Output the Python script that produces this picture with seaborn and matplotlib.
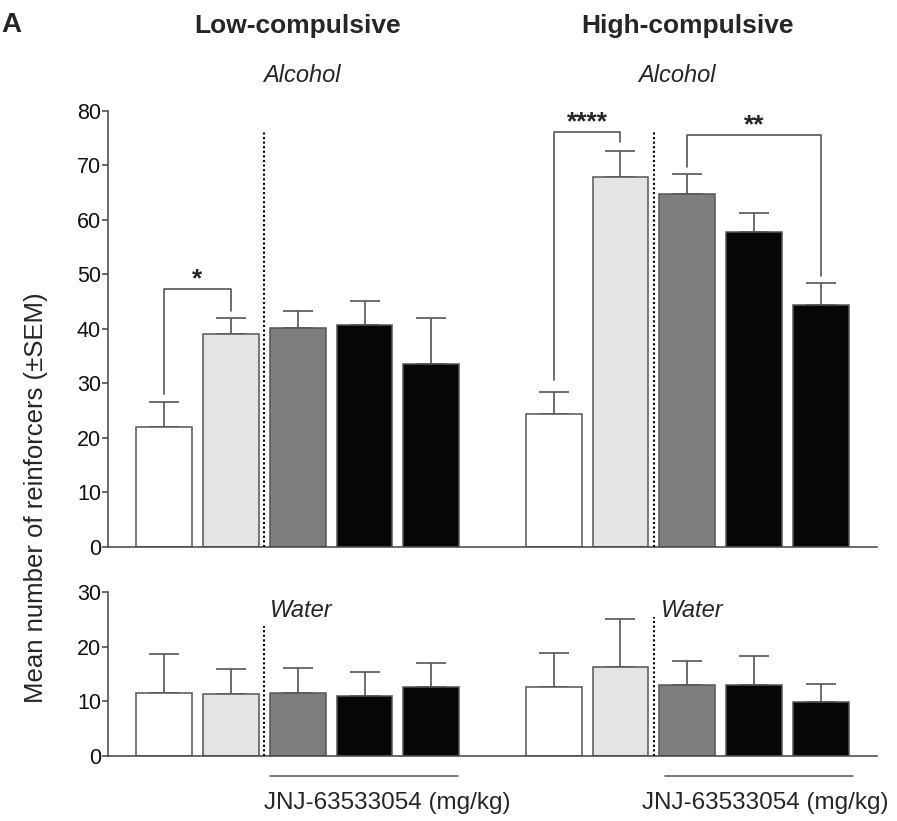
import numpy as np
import pandas as pd
import seaborn as sns
import matplotlib.pyplot as plt

# group positions on the x axis (low group, then high group after a gap)
low_x = [0, 1, 2, 3, 4]
high_x = [5.83, 6.83, 7.83, 8.83, 9.83]
conditions = ['c1', 'c2', 'c3', 'c4', 'c5']
bar_colors = ['#ffffff', '#e4e4e4', '#7e7e7e', '#060606', '#060606']

alcohol_low_mean = [22.0, 39.0, 40.1, 40.6, 33.5]
alcohol_low_sem = [4.5, 2.9, 3.2, 4.5, 8.5]
alcohol_high_mean = [24.4, 67.8, 64.8, 57.8, 44.3]
alcohol_high_sem = [4.0, 4.8, 3.6, 3.4, 4.1]

water_low_mean = [11.6, 11.4, 11.5, 11.0, 12.6]
water_low_sem = [7.1, 4.5, 4.6, 4.4, 4.4]
water_high_mean = [12.6, 16.3, 12.9, 12.9, 9.9]
water_high_sem = [6.3, 8.8, 4.5, 5.4, 3.2]

sns.set_style('ticks')
plt.rcParams['font.family'] = ['Liberation Sans', 'DejaVu Sans']
plt.rcParams['axes.edgecolor'] = '#444444'
plt.rcParams['axes.linewidth'] = 1.1
plt.rcParams['xtick.color'] = '#444444'
plt.rcParams['ytick.color'] = '#444444'
plt.rcParams['ytick.labelcolor'] = '#111111'

W, H = 897, 821
fig = plt.figure(figsize=(W / 100, H / 100), dpi=100)
left, right = 108 / W, 877 / W
ax_top = fig.add_axes([left, 1 - 546.7 / H, right - left, (546.7 - 110.7) / H])
ax_bot = fig.add_axes([left, 1 - 755.7 / H, right - left, (755.7 - 592.3) / H])

line_col = '#555555'


def make_df(low_m, low_s, high_m, high_s):
    return pd.DataFrame({
        'x': low_x + high_x,
        'value': low_m + high_m,
        'sem': low_s + high_s,
        'cond': conditions * 2,
    })


def draw_panel(ax, df, ymax, yticks):
    ax.errorbar(df['x'], df['value'], yerr=[np.zeros(len(df)), df['sem']],
                fmt='none', ecolor=line_col, elinewidth=1.2, capsize=10.5,
                capthick=1.2, zorder=1)
    sns.barplot(data=df, x='x', y='value', hue='cond', palette=bar_colors,
                native_scale=True, width=0.835, edgecolor=line_col,
                linewidth=1.1, legend=False, saturation=1, ax=ax, zorder=2)
    ax.set_xlim(-0.84, 10.67)
    ax.set_ylim(0, ymax)
    ax.set_yticks(yticks)
    ax.set_xticks([])
    ax.set_xlabel('')
    ax.set_ylabel('')
    ax.tick_params(axis='y', length=4, width=1.1, labelsize=15.5, pad=1)
    sns.despine(ax=ax)


draw_panel(ax_top, make_df(alcohol_low_mean, alcohol_low_sem,
                           alcohol_high_mean, alcohol_high_sem),
           80, range(0, 81, 10))
draw_panel(ax_bot, make_df(water_low_mean, water_low_sem,
                           water_high_mean, water_high_sem),
           30, [0, 10, 20, 30])

# dotted separators
for xs in [1.5, 7.33]:
    ax_top.plot([xs, xs], [0, 76], color='black', ls=(0, (1, 1.2)), lw=1.5,
                clip_on=False, zorder=3)
ax_bot.plot([1.5, 1.5], [0, 23.9], color='black', ls=(0, (1, 1.2)), lw=1.5, zorder=3)
ax_bot.plot([7.33, 7.33], [0, 25.4], color='black', ls=(0, (1, 1.2)), lw=1.5,
            zorder=3)


def bracket(ax, x1, x2, y1, ytop, y2, label):
    ax.plot([x1, x1, x2, x2], [y1, ytop, ytop, y2], color=line_col, lw=1.2,
            clip_on=False, zorder=4)
    ax.text((x1 + x2) / 2, ytop + 0.5, label, ha='center', va='baseline',
            fontsize=19, fontweight='bold', clip_on=False)


bracket(ax_top, 0, 1, 28.1, 47.2, 43.2, '*')
bracket(ax_top, 5.83, 6.83, 30.6, 76.1, 74.2, '****')
bracket(ax_top, 7.83, 9.83, 69.7, 75.6, 49.6, '**')

# panel text
ax_top.text(2.0, 95.6, 'Low-compulsive', ha='center', va='center',
            fontsize=19, fontweight='bold', clip_on=False)
ax_top.text(7.83, 95.6, 'High-compulsive', ha='center', va='center',
            fontsize=19, fontweight='bold', clip_on=False)
ax_top.text(2.07, 86.4, 'Alcohol', ha='center', va='center', fontsize=17,
            style='italic', clip_on=False)
ax_top.text(7.68, 86.4, 'Alcohol', ha='center', va='center', fontsize=17,
            style='italic', clip_on=False)
ax_bot.text(1.59, 26.7, 'Water', ha='left', va='center', fontsize=17,
            style='italic', clip_on=False)
ax_bot.text(7.44, 26.7, 'Water', ha='left', va='center', fontsize=17,
            style='italic', clip_on=False)

# drug dose lines and labels under the bottom panel
for x1, x2, xt in [(1.58, 4.40, 3.34), (7.49, 10.31, 9.0)]:
    ax_bot.plot([x1, x2], [-3.7, -3.7], color=line_col, lw=1.1, clip_on=False)
    ax_bot.text(xt, -8.7, 'JNJ-63533054 (mg/kg)', ha='center', va='center',
                fontsize=17.5, clip_on=False)

fig.text(36 / W, 1 - 498 / H, 'Mean number of reinforcers (\u00b1SEM)',
         rotation=90, ha='center', va='center', fontsize=18.5)
fig.text(1 / W, 1 - 25 / H, 'A', ha='left', va='center', fontsize=20,
         fontweight='bold')

fig.savefig('out.png', dpi=100)
